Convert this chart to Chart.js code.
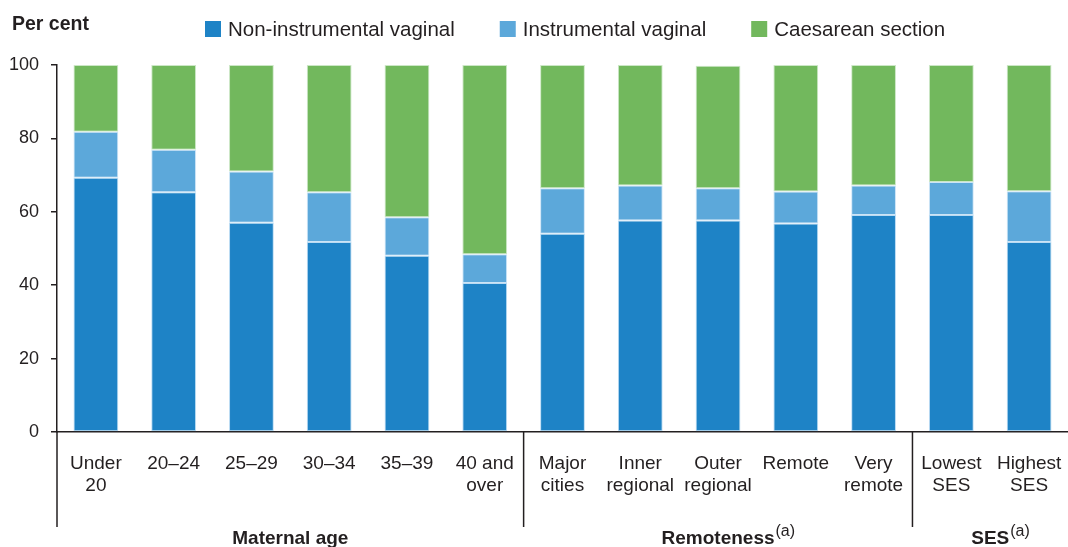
<!DOCTYPE html>
<html>
<head>
<meta charset="utf-8">
<script src="https://cdn.jsdelivr.net/npm/chart.js@4/dist/chart.umd.min.js"></script>
<style>
  html, body { margin: 0; padding: 0; background: #fff; }
  canvas { display: block; }
</style>
</head>
<body>
<canvas id="births" width="1068" height="547"></canvas>
<script>
// Categories along the x axis (grouped)
const categories = [
    ['Under', '20'], '20–24', '25–29', '30–34', '35–39', ['40 and', 'over'],
    ['Major', 'cities'], ['Inner', 'regional'], ['Outer', 'regional'], 'Remote', ['Very', 'remote'],
    ['Lowest', 'SES'], ['Highest', 'SES']
];
const groupNames = ['Maternal age', 'Remoteness', 'SES'];
const groupNotes = ['', '(a)', '(a)'];
const groupSizes = [6, 5, 2];

// Per cent of births by method
const nonInstrumental = [69.3, 65.3, 57.0, 51.8, 48.0, 40.6, 54.0, 57.6, 57.6, 56.8, 59.1, 59.1, 51.8];
const instrumental    = [12.5, 11.6, 14.0, 13.5, 10.5, 7.8, 12.4, 9.6, 8.8, 8.7, 8.1, 9.0, 13.8];
const caesarean       = [18.2, 23.1, 29.0, 34.7, 41.5, 51.6, 33.6, 32.8, 33.4, 34.5, 32.8, 31.9, 34.4];

const yTicks = [0, 20, 40, 60, 80, 100];

const FONT = '"Liberation Sans", Arial, sans-serif';
const INK = '#231f20';

// Legend, axis title, group separators and group labels
const extras = {
    id: 'extras',
    afterDraw(chart) {
        const { ctx, chartArea: a, scales: { x } } = chart;
        ctx.save();
        ctx.textBaseline = 'alphabetic';
        ctx.textAlign = 'left';

        ctx.fillStyle = INK;
        ctx.font = 'bold 19.5px ' + FONT;
        ctx.fillText('Per cent', 12, 30);

        // legend
        let lx = 205;
        ctx.font = '20.5px ' + FONT;
        chart.data.datasets.forEach(ds => {
            ctx.fillStyle = ds.backgroundColor;
            ctx.fillRect(lx, 21, 16, 16);
            ctx.fillStyle = INK;
            ctx.fillText(ds.label, lx + 23, 36);
            lx += 23 + ctx.measureText(ds.label).width + 45;
        });

        // group separators and labels
        const step = x.getPixelForValue(1) - x.getPixelForValue(0);
        ctx.strokeStyle = INK;
        ctx.lineWidth = 1.5;
        let start = 0;
        groupSizes.forEach((n, i) => {
            const left = x.getPixelForValue(start) - step / 2;
            const right = x.getPixelForValue(start + n - 1) + step / 2;
            ctx.beginPath();
            ctx.moveTo(left, a.bottom);
            ctx.lineTo(left, a.bottom + 95);
            ctx.stroke();

            ctx.font = 'bold 19px ' + FONT;
            const w = ctx.measureText(groupNames[i]).width;
            const tx = (left + right) / 2 - w / 2;
            ctx.fillStyle = INK;
            ctx.fillText(groupNames[i], tx, a.bottom + 112);
            if (groupNotes[i]) {
                ctx.font = '16px ' + FONT;
                ctx.fillText(groupNotes[i], tx + w + 1, a.bottom + 104);
            }
            start += n;
        });
        ctx.restore();
    }
};

const barStyle = { borderWidth: 1, borderSkipped: false, barPercentage: 0.576, categoryPercentage: 1 };

const ctxBirths = document.getElementById('births').getContext('2d');
const birthsChart = new Chart(ctxBirths, {
    type: 'bar',
    data: {
        labels: categories,
        datasets: [
            { label: 'Non-instrumental vaginal', data: nonInstrumental, backgroundColor: '#1e83c6', borderColor: 'rgba(140,195,235,0.6)', ...barStyle },
            { label: 'Instrumental vaginal', data: instrumental, backgroundColor: '#5ca8da', borderColor: 'rgba(170,210,240,0.6)', ...barStyle },
            { label: 'Caesarean section', data: caesarean, backgroundColor: '#72b85d', borderColor: 'rgba(170,215,160,0.6)', ...barStyle }
        ]
    },
    options: {
        responsive: false,
        devicePixelRatio: 1,
        animation: false,
        layout: { padding: { top: 65, right: 0, left: 0, bottom: 0 } },
        plugins: { legend: { display: false }, tooltip: { enabled: false } },
        scales: {
            x: {
                stacked: true,
                offset: true,
                grid: { display: false },
                border: { display: true, color: INK, width: 1.5 },
                ticks: {
                    autoSkip: false, maxRotation: 0, minRotation: 0, padding: 12,
                    color: INK, font: { family: FONT, size: 19 }
                },
                afterFit(s) { s.height = 115; s.paddingLeft = 0; s.paddingRight = 0; }
            },
            y: {
                stacked: true,
                min: 0, max: 100,
                afterBuildTicks(s) { s.ticks = yTicks.map(v => ({ value: v })); },
                grid: { drawOnChartArea: false, drawTicks: true, tickLength: 6, color: INK, lineWidth: 1.5 },
                border: { display: true, color: INK, width: 1.5 },
                ticks: { padding: 12, color: INK, font: { family: FONT, size: 18 } },
                afterFit(s) { s.width = 57; }
            }
        }
    },
    plugins: [extras]
});
</script>
</body>
</html>
